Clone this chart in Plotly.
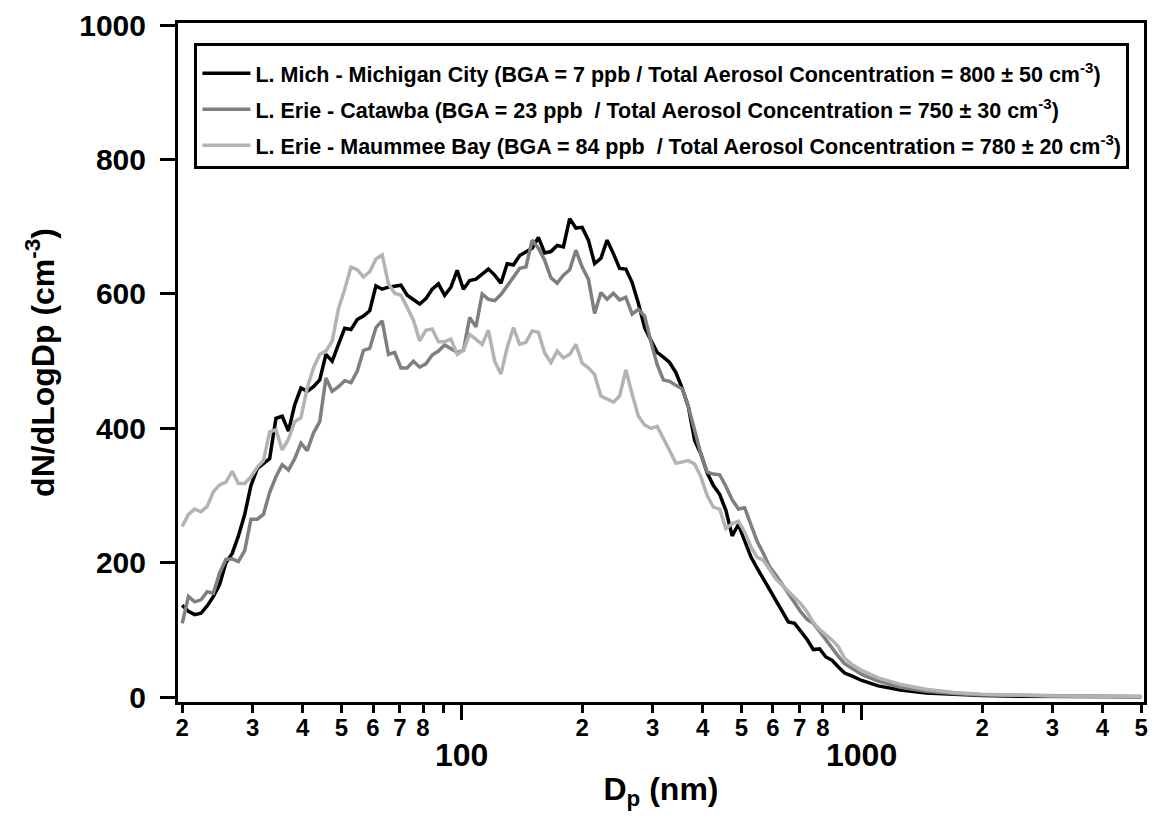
import math
import plotly.graph_objects as go

# Particle diameter (nm)
diameter_nm = [
    20.00, 20.73, 21.49, 22.28, 23.09, 23.94, 24.81, 25.72, 26.67, 27.64,
    28.66, 29.71, 30.80, 31.92, 33.09, 34.31, 35.57, 36.87, 38.22, 39.62,
    41.07, 42.58, 44.14, 45.75, 47.43, 49.17, 50.97, 52.84, 54.77, 56.78,
    58.86, 61.01, 63.25, 65.56, 67.96, 70.45, 73.03, 75.71, 78.48, 81.36,
    84.34, 87.43, 90.63, 93.95, 97.39, 100.96, 104.66, 108.49, 112.47, 116.59,
    120.86, 125.29, 129.88, 134.63, 139.56, 144.68, 149.98, 155.47, 161.17, 167.07,
    173.19, 179.54, 186.12, 192.93, 200.0, 207.3, 214.9, 222.8, 230.9, 239.4,
    248.1, 257.2, 266.7, 276.4, 286.6, 297.1, 308.0, 319.2, 330.9, 343.1,
    355.7, 368.7, 382.2, 396.2, 410.7, 425.8, 441.4, 457.5, 474.3, 491.7,
    509.7, 528.4, 547.7, 567.8, 588.6, 610.1, 632.5, 655.6, 679.6, 704.5,
    730.3, 757.1, 784.8, 813.6, 843.4, 874.3, 906.3,
    950, 1000, 1100, 1250, 1450, 1700, 2000, 2500, 3000, 4000, 5000,
]

# dN/dLogDp (cm^-3)
mich_city = [
    137, 128, 123, 125, 136, 150, 168, 200, 214, 240,
    272, 315, 340, 347, 355, 415, 418, 396, 435, 460,
    455, 462, 472, 510, 500, 525, 549, 547, 562, 567,
    575, 612, 607, 610, 611, 613, 598, 592, 585, 593,
    607, 615, 598, 610, 635, 607, 620, 622, 630, 637,
    628, 616, 645, 643, 657, 663, 668, 684, 661, 663,
    672, 670, 712, 698, 699, 680, 645, 653, 680, 660,
    638, 637, 617, 586, 550, 531, 513, 506, 498, 483,
    460, 432, 382, 362, 334, 315, 302, 278, 240, 257,
    232, 209, 192, 176, 161, 146, 128, 112, 110, 98,
    86, 71, 72, 60, 55, 45, 36,
    31, 25, 17, 11, 6.5, 4, 2.5, 1.5, 1, 1, 0.8,
]

catawba = [
    110, 150, 142, 145, 157, 155, 185, 205, 206, 202,
    218, 265, 265, 272, 305, 328, 346, 338, 355, 378,
    367, 393, 410, 475, 455, 462, 471, 468, 485, 516,
    519, 550, 560, 510, 513, 490, 490, 500, 491, 496,
    509, 515, 524, 519, 513, 516, 565, 551, 600, 592,
    590, 599, 612, 626, 638, 640, 680, 668, 650, 624,
    616, 628, 636, 665, 640, 622, 571, 602, 592, 601,
    591, 595, 570, 577, 567, 529, 495, 472, 470, 464,
    459, 432, 395, 362, 335, 332, 331, 314, 294, 280,
    282, 255, 232, 214, 194, 182, 168, 154, 139, 127,
    116, 110, 98, 85, 73, 61, 50,
    42, 34, 24, 15, 9, 5.5, 3.5, 2.5, 2, 1.5, 1.2,
]

maumee_bay = [
    254, 272, 280, 276, 284, 306, 316, 320, 336, 318,
    318, 328, 342, 352, 395, 398, 368, 384, 410, 416,
    460, 490, 510, 515, 530, 578, 607, 640, 636, 625,
    633, 652, 658, 615, 601, 598, 580, 561, 530, 546,
    548, 529, 529, 533, 510, 516, 540, 532, 525, 546,
    500, 481, 520, 550, 525, 528, 545, 543, 512, 498,
    515, 505, 510, 525, 497, 490, 480, 448, 443, 439,
    448, 487, 451, 418, 405, 400, 403, 386, 367, 348,
    350, 352, 347, 328, 300, 283, 280, 251, 258, 262,
    246, 224, 208, 204, 190, 176, 167, 158, 148, 139,
    127, 111, 101, 93, 85, 75, 58,
    48, 40, 29, 19, 12, 7, 4.5, 3, 2, 1.5, 1.2,
]

series_names = [
    "L. Mich - Michigan City (BGA = 7 ppb / Total Aerosol Concentration = 800 ± 50 cm<sup>-3</sup>)",
    "L. Erie - Catawba (BGA = 23 ppb  / Total Aerosol Concentration = 750 ± 30 cm<sup>-3</sup>)",
    "L. Erie - Maummee Bay (BGA = 84 ppb  / Total Aerosol Concentration = 780 ± 20 cm<sup>-3</sup>)",
]
series_colors = ["#000000", "#7f7f7f", "#b3b3b3"]

x_tick_vals = [20, 30, 40, 50, 60, 70, 80, 90, 200, 300, 400, 500, 600, 700, 800, 900,
               2000, 3000, 4000, 5000]
x_tick_text = ["2", "3", "4", "5", "6", "7", "8", "", "2", "3", "4", "5", "6", "7", "8", "",
               "2", "3", "4", "5"]
x_decades = [100, 1000]
y_tick_vals = [0, 200, 400, 600, 800, 1000]

FONT = "Liberation Sans, Arial, sans-serif"
NARROW = "Liberation Sans Narrow, Arial Narrow, Liberation Sans, Arial, sans-serif"

fig = go.Figure()
for i, (name, ys) in enumerate(zip(series_names, [mich_city, catawba, maumee_bay])):
    fig.add_trace(go.Scatter(
        x=diameter_nm, y=ys, mode="lines", name=name,
        line=dict(color=series_colors[i], width=3.5),
        legendgroup=f"g{i}",
    ))

annotations = [
    dict(x=math.log10(v), xref="x", y=-0.078, yref="paper", text=str(v),
         showarrow=False, xanchor="center", yanchor="middle",
         font=dict(family=FONT, size=32, color="black", weight="bold"))
    for v in x_decades
]

fig.update_layout(
    width=1154, height=819,
    margin=dict(l=178, r=6, t=23, b=117),
    paper_bgcolor="white", plot_bgcolor="white",
    showlegend=True,
    legend=dict(
        x=0.017, y=0.97, xanchor="left", yanchor="top",
        bordercolor="black", borderwidth=3, bgcolor="white",
        font=dict(family=NARROW, size=21.5, color="black", weight="bold"),
        title=dict(text=" ", font=dict(size=5)),
        tracegroupgap=5, itemwidth=48, traceorder="grouped",
    ),
    annotations=annotations,
    xaxis=dict(
        type="log", range=[math.log10(19.52), math.log10(5080)],
        showline=True, linecolor="black", linewidth=3, mirror=True,
        showgrid=False, zeroline=False,
        tickmode="array", tickvals=x_tick_vals, ticktext=x_tick_text,
        ticks="outside", ticklen=8, tickwidth=3, tickcolor="black",
        ticklabelstandoff=-6,
        tickfont=dict(family=FONT, size=24, color="black", weight="bold"),
        minor=dict(tickmode="array", tickvals=x_decades, ticks="outside",
                   ticklen=15, tickwidth=3, tickcolor="black", showgrid=False),
        title=dict(text="D<sub>p</sub> (nm)", standoff=38,
                   font=dict(family=FONT, size=32, color="black", weight="bold")),
    ),
    yaxis=dict(
        range=[-7, 1003],
        showline=True, linecolor="black", linewidth=3, mirror=True,
        showgrid=False, zeroline=False,
        tickmode="array", tickvals=y_tick_vals,
        ticks="outside", ticklen=15, tickwidth=3, tickcolor="black",
        ticklabelstandoff=8,
        tickfont=dict(family=FONT, size=30, color="black", weight="bold"),
        title=dict(text="dN/dLogDp (cm<sup>-3</sup>)", standoff=16,
                   font=dict(family=FONT, size=32, color="black", weight="bold")),
    ),
)

fig.write_html("out.html")
